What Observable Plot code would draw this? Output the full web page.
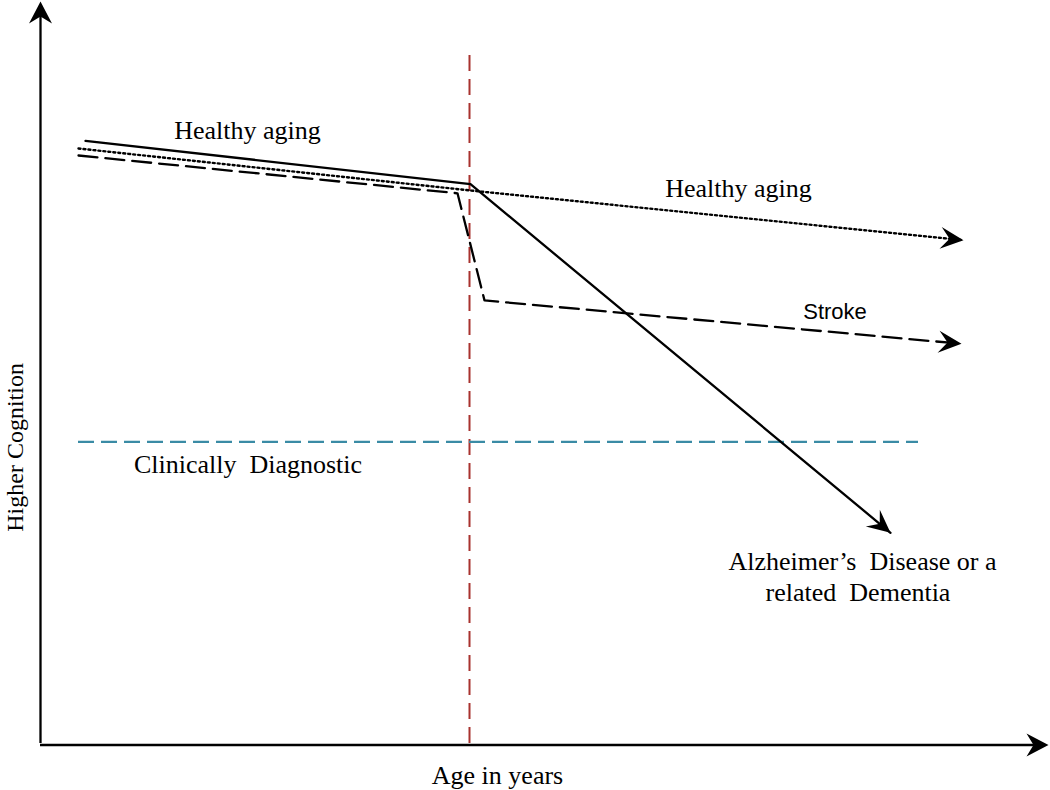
<!DOCTYPE html>
<html><head><meta charset="utf-8">
<script src="https://cdn.jsdelivr.net/npm/d3@7"></script>
<script src="https://cdn.jsdelivr.net/npm/@observablehq/plot@0.6"></script>
<style>
body{margin:0;background:#fff;}
svg text{white-space:pre;}
</style>
</head><body><div id="chart"></div>
<script>
// Conceptual units: x = age (0..100), y = cognition (0..100)
const healthyPath   = [{x: 3.8, y: 85.0}, {x: 43.0, y: 79.0}, {x: 92.3, y: 71.9}];
const alzheimerPath = [{x: 4.5, y: 86.1}, {x: 43.0, y: 79.9}, {x: 85.0, y: 30.1}];
const strokePath    = [{x: 3.8, y: 84.0}, {x: 41.7, y: 78.6}, {x: 44.4, y: 63.3}, {x: 92.1, y: 57.1}];
const onsetAge = [42.9];
const onsetTop = 98.7;
const diagnosticThreshold = [{x1: 3.8, x2: 87.8, y: 43.1}];
const xAxisEnd = 100.8;
const yAxisEnd = 106;
const serifLabels = [
  {text: "Healthy aging", x: 20.7, y: 87.5},
  {text: "Healthy aging", x: 69.8, y: 79.2},
  {text: "Clinically  Diagnostic", x: 20.75, y: 39.8},
  {text: "Alzheimer\u2019s  Disease or a", x: 82.2, y: 26.0},
  {text: "related  Dementia", x: 81.75, y: 21.6}
];
const sansLabels = [{text: "Stroke", x: 79.45, y: 61.7}];
const xTitle = [{text: "Age in years", x: 45.7, y: -4.6}];
const yTitle = [{text: "Higher Cognition", x: -2.47, y: 42.3}];

const xRange = [40, 1040], yRange = [743, 43];
const xs = d3.scaleLinear([0, 100], xRange), ys = d3.scaleLinear([0, 100], yRange);

function arrowHead(angle, L = 23, W = 11, N = 14) {
  const c = Math.cos(angle), s = Math.sin(angle);
  const pts = [[0, 0], [-L, -W], [-N, 0], [-L, W]].map(([u, v]) => [u * c - v * s, u * s + v * c]);
  return {draw(ctx) {
    ctx.moveTo(pts[0][0], pts[0][1]);
    for (let i = 1; i < pts.length; i++) ctx.lineTo(pts[i][0], pts[i][1]);
    ctx.closePath();
  }};
}
function headFor(path) {
  const a = path[path.length - 2], b = path[path.length - 1];
  const ang = Math.atan2(ys(b.y) - ys(a.y), xs(b.x) - xs(a.x));
  return Plot.dot([b], {x: "x", y: "y", symbol: arrowHead(ang), fill: "black", stroke: "none", r: 10});
}

const font = "Liberation Serif";
const chart = Plot.plot({
  width: 1050, height: 790,
  margin: 0,
  x: {domain: [0, 100], range: xRange, axis: null},
  y: {domain: [0, 100], range: yRange, axis: null},
  style: {background: "#fff"},
  marks: [
    Plot.ruleX([0], {y1: 0, y2: yAxisEnd - 2, stroke: "black", strokeWidth: 2.3}),
    Plot.ruleY([-0.2], {x1: 0, x2: xAxisEnd - 1, stroke: "black", strokeWidth: 2.5}),
    Plot.dot([{x: 0, y: yAxisEnd}], {x: "x", y: "y", symbol: arrowHead(-Math.PI / 2, 22, 11.5, 15), fill: "black", stroke: "none"}),
    Plot.dot([{x: xAxisEnd, y: -0.2}], {x: "x", y: "y", symbol: arrowHead(0, 22, 11.5, 15), fill: "black", stroke: "none"}),
    Plot.ruleX(onsetAge, {y1: 0, y2: onsetTop, stroke: "#a8322e", strokeWidth: 2, strokeDasharray: "16,8"}),
    Plot.ruleY(diagnosticThreshold, {x1: "x1", x2: "x2", y: "y", stroke: "#3a8ba5", strokeWidth: 2.3, strokeDasharray: "16,7"}),
    Plot.line(healthyPath, {x: "x", y: "y", stroke: "black", strokeWidth: 2.4, strokeDasharray: "2,3"}),
    Plot.line(strokePath, {x: "x", y: "y", stroke: "black", strokeWidth: 2.3, strokeDasharray: "19,8"}),
    Plot.line(alzheimerPath, {x: "x", y: "y", stroke: "black", strokeWidth: 2.3}),
    headFor(healthyPath),
    headFor(strokePath),
    headFor(alzheimerPath),
    Plot.text(serifLabels, {x: "x", y: "y", text: "text", fontFamily: font, fontSize: 26, fill: "black"}),
    Plot.text(sansLabels, {x: "x", y: "y", text: "text", fontFamily: "Liberation Sans", fontSize: 22, fill: "black"}),
    Plot.text(xTitle, {x: "x", y: "y", text: "text", fontFamily: font, fontSize: 26, fill: "black"}),
    Plot.text(yTitle, {x: "x", y: "y", text: "text", fontFamily: font, fontSize: 24, fill: "black", rotate: -90})
  ]
});
document.getElementById("chart").append(chart);
</script>
</body></html>
